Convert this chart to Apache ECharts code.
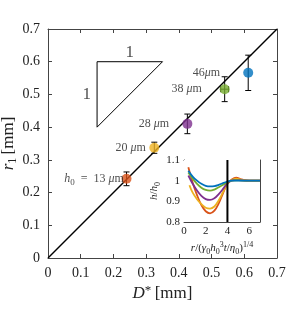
<!DOCTYPE html>
<html><head><meta charset="utf-8">
<script src="https://cdn.jsdelivr.net/npm/echarts@6/dist/echarts.min.js"></script>
<style>html,body{margin:0;padding:0;background:#fff}#c{width:307px;height:309px}</style>
</head><body><div id="c"></div>
<script>
// ---- data ----
const thicknessLabels = ['h0 = 13 μm', '20 μm', '28 μm', '38 μm', '46μm'];
const colors = ['#D95319', '#EDB120', '#7E2F8E', '#77AC30', '#0072BD'];
const dStar = [0.240, 0.325, 0.426, 0.540, 0.612];
const r1 = [0.242, 0.337, 0.410, 0.516, 0.566];
const r1Err = [0.021, 0.017, 0.030, 0.038, 0.054];
const dStarErr = [0, 0, 0, 0.012, 0];
// annotation anchors (right end of each label)
const labelAnchorX = [0.232, 0.299, 0.370, 0.470, 0.526];
const mainTicks = [0, 0.1, 0.2, 0.3, 0.4, 0.5, 0.6, 0.7];
const triangle = [[0.15, 0.40], [0.15, 0.60], [0.35, 0.60], [0.15, 0.40]];
// inset profiles h/h0 vs r/(...)^(1/4)
const insetX = [0.4, 0.8, 1.2, 1.6, 2.0, 2.4, 2.8, 3.2, 3.6, 4.0, 4.4, 4.8, 5.2, 5.6, 6.0, 7.0];
const insetX20 = [0.5, 0.8, 1.2, 1.6, 2.0, 2.4, 2.8, 3.2, 3.6, 4.0, 4.4, 4.8, 5.2, 5.6, 6.0, 7.0];
const prof13 = [1.065, 0.990, 0.930, 0.882, 0.852, 0.842, 0.855, 0.890, 0.940, 0.985, 1.006, 1.015, 1.008, 1.002, 1.000, 1.000];
const prof20 = [0.978, 0.942, 0.910, 0.886, 0.869, 0.865, 0.875, 0.905, 0.945, 0.985, 1.003, 1.010, 1.005, 1.001, 1.000, 1.000];
const prof28 = [1.025, 0.985, 0.952, 0.926, 0.911, 0.907, 0.915, 0.935, 0.960, 0.988, 1.000, 1.004, 1.002, 1.000, 1.000, 1.000];
const prof38 = [1.040, 1.010, 0.985, 0.966, 0.955, 0.952, 0.957, 0.968, 0.980, 0.993, 1.000, 1.002, 1.001, 1.000, 1.000, 1.000];
const prof46 = [1.048, 1.020, 1.000, 0.985, 0.975, 0.972, 0.974, 0.980, 0.988, 0.996, 1.000, 1.000, 1.000, 1.000, 1.000, 1.000];
const profiles = [prof13, prof20, prof28, prof38, prof46];
const profileX = [insetX, insetX20, insetX, insetX, insetX];
const insetXTicks = [0, 2, 4, 6];
const insetYTicks = [0.8, 0.9, 1.0, 1.1];
const insetMarkX = 4;

// ---- chart ----
const serif = 'Liberation Serif';
const axisCol = '#444';
const txt = '#222';
const rich = {
  i: {fontStyle: 'italic', fontFamily: serif, fontSize: 17, color: txt, lineHeight: 20},
  n: {fontFamily: serif, fontSize: 17, color: txt, lineHeight: 20},
  s: {fontFamily: serif, fontSize: 12, color: txt, lineHeight: 10, verticalAlign: 'bottom'},
  sup: {fontFamily: serif, fontSize: 13, color: txt, lineHeight: 11, verticalAlign: 'top'}
};
const lrich = {
  i: {fontStyle: 'italic', fontFamily: serif, fontSize: 11, color: txt, lineHeight: 15},
  n: {fontFamily: serif, fontSize: 11, color: txt, lineHeight: 15},
  s: {fontFamily: serif, fontSize: 8, color: txt, lineHeight: 8, verticalAlign: 'bottom'},
  sup: {fontFamily: serif, fontSize: 8, color: txt, lineHeight: 8, verticalAlign: 'top'}
};
const prich = {
  i: {fontStyle: 'italic', fontFamily: serif, fontSize: 12, color: txt, lineHeight: 16},
  n: {fontFamily: serif, fontSize: 12, color: txt, lineHeight: 16},
  s: {fontFamily: serif, fontSize: 9, color: txt, lineHeight: 9, verticalAlign: 'bottom'}
};
function mainAxis(pos, showLabel) {
  return {
    type: 'value', min: 0, max: 0.7, interval: 0.1, position: pos, gridIndex: 0,
    axisLine: {show: true, onZero: false, lineStyle: {color: axisCol, width: 1}},
    axisTick: {show: true, inside: true, length: 4, lineStyle: {color: axisCol}},
    axisLabel: {show: showLabel, fontFamily: serif, fontSize: 14, color: txt, margin: 8,
      formatter: v => String(Math.round(v * 10) / 10)},
    splitLine: {show: false}
  };
}
function insetAxisX(pos, showLabel) {
  return {
    type: 'value', min: 0, max: 7, position: pos, gridIndex: 1,
    axisLine: {show: true, onZero: false, lineStyle: {color: axisCol, width: 1}},
    axisTick: {show: true, inside: true, length: 3, lineStyle: {color: axisCol}, customValues: insetXTicks},
    axisLabel: {show: showLabel, fontFamily: serif, fontSize: 11, color: txt, margin: 4,
      customValues: insetXTicks},
    splitLine: {show: false}
  };
}
function insetAxisY(pos, showLabel) {
  return {
    type: 'value', min: 0.8, max: 1.1, interval: 0.1, position: pos, gridIndex: 1,
    axisLine: {show: true, onZero: false, lineStyle: {color: axisCol, width: 1}},
    axisTick: {show: true, inside: true, length: 3, lineStyle: {color: axisCol}},
    axisLabel: {show: showLabel, fontFamily: serif, fontSize: 11, color: txt, margin: 4,
      formatter: v => String(Math.round(v * 10) / 10)},
    splitLine: {show: false}
  };
}
const xMain = mainAxis('bottom', true);
xMain.name = '{i|D}{sup|*} {n|[mm]}';
xMain.nameLocation = 'middle'; xMain.nameGap = 26; xMain.nameMoveOverlap = false;
xMain.nameTextStyle = {rich: rich};
const yMain = mainAxis('left', true);
yMain.name = '{i|r}{s|1} {n|[mm]}';
yMain.nameLocation = 'middle'; yMain.nameGap = 29; yMain.nameMoveOverlap = false;
yMain.nameTextStyle = {rich: rich};
const xIn = insetAxisX('bottom', true);
xIn.name = '{i|r}{n|/(}{i|γ}{s|0}{i|h}{s|0}{sup|3}{i|t}{n|/}{i|η}{s|0}{n|)}{sup|1/4}';
xIn.nameLocation = 'middle'; xIn.nameGap = 19; xIn.nameMoveOverlap = false;
xIn.nameTextStyle = {rich: lrich};
const yIn = insetAxisY('left', true);
yIn.name = '{i|h}{n|/}{i|h}{s|0}';
yIn.nameLocation = 'middle'; yIn.nameGap = 22; yIn.nameMoveOverlap = false;
yIn.nameTextStyle = {rich: lrich};

const pts = dStar.map((x, k) => [x, r1[k], r1Err[k], dStarErr[k]]);
const series = [];
series.push({type: 'line', xAxisIndex: 0, yAxisIndex: 0, data: [[0, 0], [0.7, 0.7]],
  symbol: 'none', lineStyle: {color: '#000', width: 1.5}, silent: true, z: 2});
series.push({type: 'line', xAxisIndex: 0, yAxisIndex: 0, data: triangle,
  symbol: 'none', lineStyle: {color: '#000', width: 1}, silent: true, z: 2});
series.push({type: 'scatter', xAxisIndex: 0, yAxisIndex: 0, symbolSize: 0, silent: true,
  label: {show: true, formatter: '1', fontFamily: serif, fontSize: 17, color: txt},
  data: [
    {value: [0.25, 0.6], label: {position: 'top', distance: 1}},
    {value: [0.15, 0.5], label: {position: 'left', distance: 6}}
  ]});
series.push({type: 'custom', xAxisIndex: 0, yAxisIndex: 0, data: pts, z: 3,
  renderItem: function (params, api) {
    const x = api.value(0), y = api.value(1), ey = api.value(2), ex = api.value(3);
    const t = api.coord([x, y + ey]), b = api.coord([x, y - ey]);
    const c = 3;
    const st = {stroke: '#000', lineWidth: 1};
    const ch = [
      {type: 'line', shape: {x1: t[0], y1: t[1], x2: b[0], y2: b[1]}, style: st},
      {type: 'line', shape: {x1: t[0] - c, y1: t[1], x2: t[0] + c, y2: t[1]}, style: st},
      {type: 'line', shape: {x1: b[0] - c, y1: b[1], x2: b[0] + c, y2: b[1]}, style: st}
    ];
    if (ex > 0) {
      const l = api.coord([x - ex, y]), r = api.coord([x + ex, y]);
      ch.push({type: 'line', shape: {x1: l[0], y1: l[1], x2: r[0], y2: r[1]}, style: st});
      ch.push({type: 'line', shape: {x1: l[0], y1: l[1] - c, x2: l[0], y2: l[1] + c}, style: st});
      ch.push({type: 'line', shape: {x1: r[0], y1: r[1] - c, x2: r[0], y2: r[1] + c}, style: st});
    }
    return {type: 'group', children: ch};
  }});
series.push({type: 'scatter', xAxisIndex: 0, yAxisIndex: 0, symbol: 'circle', symbolSize: 10, z: 4,
  data: dStar.map((x, k) => ({value: [x, r1[k]], itemStyle: {color: colors[k]}}))});
const labelTexts = [
  '{i|h}{s|0}{n|  =  13 }{i|μ}{n|m}', '{n|20 }{i|μ}{n|m}', '{n|28 }{i|μ}{n|m}',
  '{n|38 }{i|μ}{n|m}', '{n|46}{i|μ}{n|m}'
];
series.push({type: 'scatter', xAxisIndex: 0, yAxisIndex: 0, symbolSize: 0, silent: true, z: 5,
  data: labelAnchorX.map((x, k) => ({value: [x, r1[k]],
    label: {show: true, position: 'left', distance: 0, formatter: labelTexts[k], rich: prich}}))});
// inset
profiles.forEach((p, k) => {
  series.push({type: 'line', xAxisIndex: 2, yAxisIndex: 2, smooth: 0.4, symbol: 'none',
    data: profileX[k].map((x, j) => [x, p[j]]),
    lineStyle: {color: colors[k], width: 1.8}, silent: true, z: 3});
});
series.push({type: 'line', xAxisIndex: 2, yAxisIndex: 2, symbol: 'none',
  data: [[insetMarkX, 0.8], [insetMarkX, 1.1]], lineStyle: {color: '#000', width: 2}, silent: true, z: 4});

const opt = {
  animation: false,
  backgroundColor: '#fff',
  grid: [
    {left: 48, top: 29, width: 229, height: 229, outerBoundsMode: 'none', containLabel: false},
    {left: 184, top: 160, width: 76, height: 62, outerBoundsMode: 'none', containLabel: false,
      show: true, backgroundColor: '#fff', borderWidth: 0, z: 1}
  ],
  xAxis: [xMain, mainAxis('top', false), xIn, insetAxisX('top', false)],
  yAxis: [yMain, mainAxis('right', false), yIn, insetAxisY('right', false)],
  series: series
};
const chart = echarts.init(document.getElementById('c'), null, {renderer: 'canvas'});
chart.setOption(opt);
</script></body></html>
